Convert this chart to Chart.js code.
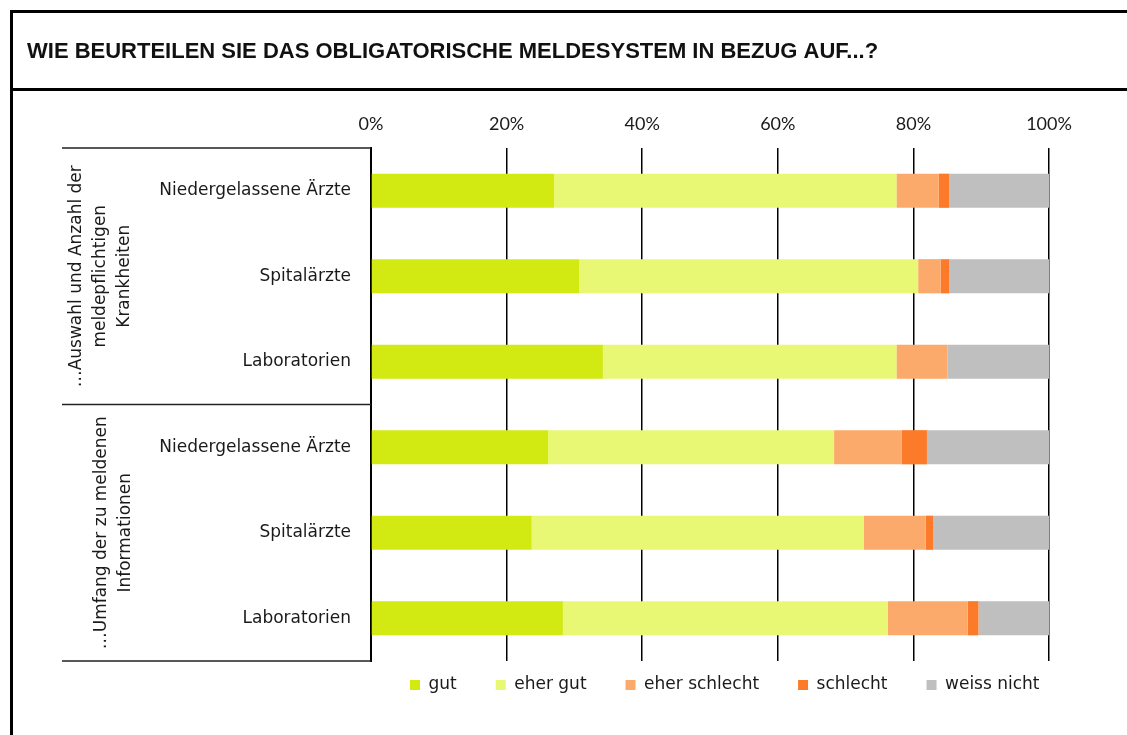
<!DOCTYPE html>
<html>
<head>
<meta charset="utf-8">
<script src="https://cdn.jsdelivr.net/npm/chart.js@4"></script>
<style>
html,body{margin:0;padding:0;background:#fff;}
#wrap{width:1127px;height:735px;}
</style>
</head>
<body>
<div id="wrap"><canvas id="chart" width="1127" height="735"></canvas></div>
<script>
// data (percent)
const title = "WIE BEURTEILEN SIE DAS OBLIGATORISCHE MELDESYSTEM IN BEZUG AUF...?";
const categories = ["Niedergelassene Ärzte","Spitalärzte","Laboratorien","Niedergelassene Ärzte","Spitalärzte","Laboratorien"];
const groupLabels = [["…Auswahl und Anzahl der","meldepflichtigen","Krankheiten"],["…Umfang der zu meldenen","Informationen"]];
const groupSizes = [3,3];
const seriesNames = ["gut","eher gut","eher schlecht","schlecht","weiss nicht"];
const gut = [27.0,30.7,34.2,26.1,23.7,28.3];
const eherGut = [50.5,50.0,43.3,42.2,49.0,47.9];
const eherSchlecht = [6.2,3.3,7.5,10.0,9.1,11.8];
const schlecht = [1.6,1.3,0,3.7,1.1,1.6];
const weissNicht = [14.7,14.7,15.0,18.0,17.1,10.4];
const xTicks = [0,20,40,60,80,100];

const colors = ["#d2e912","#e8f774","#fcaa6b","#fc7b2a","#bfbfbf"];
const values = [gut,eherGut,eherSchlecht,schlecht,weissNicht];

const txtFont = '"DejaVu Sans", Verdana, sans-serif';

// frame, title, left table and group labels
const framePlugin = {
  id:'frame',
  afterLayout(chart){
    // legend row starts at the plot's left edge, just under the plot
    const lg = chart.legend, pad = lg.options.labels.padding;
    const top = chart.chartArea.bottom + 24 - pad - 8.5;
    const h = lg.height, w = lg.width;
    lg.top = top; lg.bottom = top + h;
    lg.left = chart.chartArea.left; lg.right = lg.left + w;
  },
  afterDraw(chart){
    const ctx = chart.ctx, a = chart.chartArea, y = chart.scales.y;
    ctx.save();
    ctx.strokeStyle = '#000';
    ctx.lineWidth = 3;
    ctx.beginPath();
    ctx.moveTo(10,11.5); ctx.lineTo(1127,11.5);
    ctx.moveTo(11.5,10); ctx.lineTo(11.5,735);
    ctx.moveTo(10,89.5); ctx.lineTo(1127,89.5);
    ctx.stroke();

    ctx.fillStyle = '#111';
    ctx.font = 'bold 22px "Liberation Sans", Arial, sans-serif';
    ctx.textBaseline = 'alphabetic';
    ctx.fillText(title, 27, 58);

    // table lines left of the axis
    const tableLeft = 62;
    let idx = 0;
    const bounds = [a.top];
    groupSizes.forEach(n=>{
      idx += n;
      bounds.push(idx >= categories.length ? a.bottom : (y.getPixelForValue(idx-1)+y.getPixelForValue(idx))/2);
    });
    ctx.lineWidth = 1.5;
    ctx.strokeStyle = '#222';
    ctx.beginPath();
    bounds.forEach(b=>{ ctx.moveTo(tableLeft,b); ctx.lineTo(a.left,b); });
    ctx.stroke();

    // rotated group labels
    ctx.font = '17px ' + txtFont;
    ctx.fillStyle = '#1a1a1a';
    ctx.textAlign = 'center';
    ctx.textBaseline = 'middle';
    const centersX = [101,114];
    const lh = 24;
    groupLabels.forEach((lines,g)=>{
      const cy = (bounds[g]+bounds[g+1])/2;
      const x0 = centersX[g] - (lines.length-1)*lh/2;
      lines.forEach((t,i)=>{
        ctx.save();
        ctx.translate(x0 + i*lh, cy);
        ctx.rotate(-Math.PI/2);
        ctx.fillText(t,0,0);
        ctx.restore();
      });
    });
    ctx.restore();
  }
};

new Chart(document.getElementById('chart'), {
  type:'bar',
  data:{
    labels:categories,
    datasets:seriesNames.map((n,i)=>({
      label:n, data:values[i], backgroundColor:colors[i], borderWidth:0,
      barPercentage:0.4, categoryPercentage:1
    }))
  },
  options:{
    indexAxis:'y',
    responsive:false,
    animation:false,
    layout:{padding:{left:0,right:78,top:0,bottom:8}},
    scales:{
      x:{
        position:'top', stacked:true, min:0, max:100,
        afterFit(s){ s.height = 148; },
        afterBuildTicks(s){ s.ticks = xTicks.map(v=>({value:v})); },
        ticks:{padding:13, color:'#1a1a1a', font:{family:'Lato, "Open Sans", sans-serif', size:18}, callback:v=>v+'%'},
        grid:{color:'#000', lineWidth:1.5, drawTicks:false},
        border:{display:false}
      },
      y:{
        stacked:true,
        afterFit(s){ s.width = 371; },
        ticks:{padding:20, color:'#1a1a1a', font:{family:txtFont, size:17}, autoSkip:false},
        grid:{display:false, drawTicks:false},
        border:{display:true, color:'#000', width:2}
      }
    },
    plugins:{
      legend:{
        position:'bottom', align:'start',
        labels:{boxWidth:10, boxHeight:10, padding:39, color:'#1a1a1a', font:{family:txtFont, size:17}}
      },
      tooltip:{enabled:false}
    }
  },
  plugins:[framePlugin]
});
</script>
</body>
</html>
